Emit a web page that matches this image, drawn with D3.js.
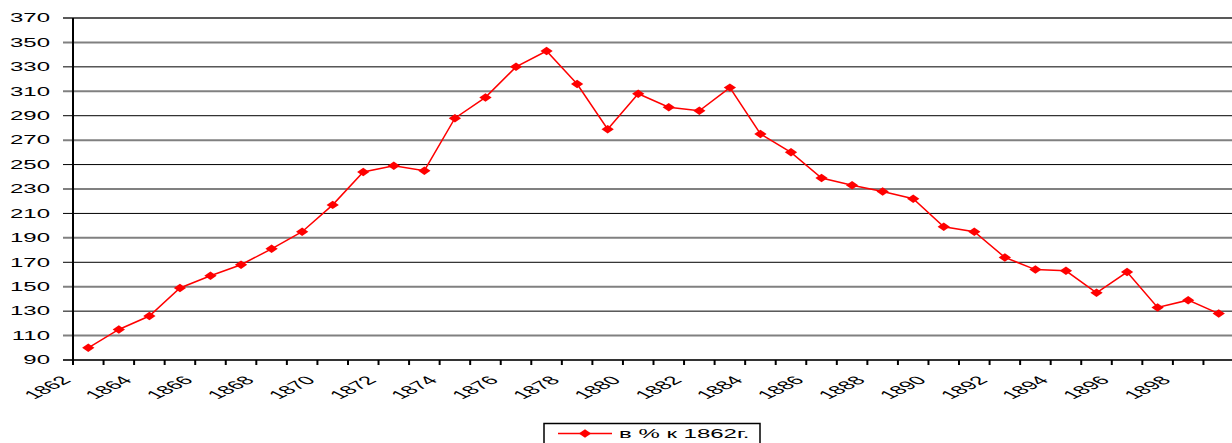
<!DOCTYPE html>
<html>
<head>
<meta charset="utf-8">
<script src="https://cdn.jsdelivr.net/npm/d3@7/dist/d3.min.js"></script>
<style>
  body { margin: 0; background: #fff; }
  text { font-family: "Liberation Sans", Arial, sans-serif; font-size: 12px; fill: #000; }
</style>
</head>
<body>
<svg width="1232" height="443"></svg>
<script>
// years 1862..1899, index in % of 1862
var years = [1862, 1863, 1864, 1865, 1866, 1867, 1868, 1869, 1870, 1871,
             1872, 1873, 1874, 1875, 1876, 1877, 1878, 1879, 1880, 1881,
             1882, 1883, 1884, 1885, 1886, 1887, 1888, 1889, 1890, 1891,
             1892, 1893, 1894, 1895, 1896, 1897, 1898, 1899];
var values = [100, 115, 126, 149, 159, 168, 181, 195, 217, 244,
              249, 245, 288, 305, 330, 343, 316, 279, 308, 297,
              294, 313, 275, 260, 239, 233, 228, 222, 199, 195,
              174, 164, 163, 145, 162, 133, 139, 128];
var yTicks = [90, 110, 130, 150, 170, 190, 210, 230, 250, 270, 290, 310, 330, 350, 370];
var xLabels = years.filter(function(y) { return (y - 1862) % 2 === 0; });
var seriesName = "в % к 1862г.";

var svg = d3.select("svg");

var x = d3.scaleBand()
    .domain(years)
    .range([73, 1234]);

var y = d3.scaleLinear()
    .domain([90, 370])
    .range([360, 18]);

// gridlines (alternate ones look grey/thicker in the original scan)
svg.append("g")
  .selectAll("line")
  .data(yTicks.slice(1))
  .enter().append("line")
    .attr("x1", 63)
    .attr("x2", x.range()[1])
    .attr("y1", function(d) { return y(d); })
    .attr("y2", function(d) { return y(d); })
    .attr("stroke", function(d, i) { return d === 370 ? "#222" : (i % 2 === 0 ? "#808080" : "#000"); })
    .attr("stroke-width", function(d, i) { return d === 370 ? 1.6 : (i % 2 === 0 ? 2 : 1); });

// y tick labels, stretched horizontally like the reference
svg.append("g")
  .selectAll("text")
  .data(yTicks)
  .enter().append("text")
    .attr("transform", function(d) { return "translate(50," + y(d) + ") scale(2,1)"; })
    .attr("dy", "0.36em")
    .attr("text-anchor", "end")
    .text(function(d) { return d; });

// x axis line + ticks
svg.append("line")
    .attr("x1", 63).attr("x2", x.range()[1])
    .attr("y1", y(90)).attr("y2", y(90))
    .attr("stroke", "#333").attr("stroke-width", 2);

var tickPos = years.map(function(d) { return x(d); }).concat([x.range()[1]]);
svg.append("g")
  .selectAll("line")
  .data(tickPos)
  .enter().append("line")
    .attr("x1", function(d) { return d; })
    .attr("x2", function(d) { return d; })
    .attr("y1", y(90))
    .attr("y2", y(90) + 5)
    .attr("stroke", "#000")
    .attr("stroke-width", 2);

// y axis line
svg.append("line")
    .attr("x1", 73).attr("x2", 73)
    .attr("y1", y(370)).attr("y2", y(90) + 5)
    .attr("stroke", "#000").attr("stroke-width", 2);

// x labels, rotated then stretched
svg.append("g")
  .selectAll("text")
  .data(xLabels)
  .enter().append("text")
    .attr("transform", function(d) { return "translate(" + (x(d) - 1) + ",381) scale(2,1) rotate(-45)"; })
    .attr("text-anchor", "end")
    .text(function(d) { return d; });

// series
var line = d3.line()
    .x(function(d, i) { return x(years[i]) + x.bandwidth() / 2; })
    .y(function(d) { return y(d); });

svg.append("path")
    .datum(values)
    .attr("fill", "none")
    .attr("stroke", "#ff0000")
    .attr("stroke-width", 1.5)
    .attr("d", line);

var marker = d3.symbol().type(d3.symbolSquare).size(36);

svg.append("g")
  .selectAll("path")
  .data(values)
  .enter().append("path")
    .attr("d", marker)
    .attr("fill", "#ff0000")
    .attr("transform", function(d, i) {
      return "translate(" + (x(years[i]) + x.bandwidth() / 2) + "," + y(d) + ") scale(1.45,1) rotate(45)";
    });

// legend
var legend = svg.append("g");
legend.append("rect")
    .attr("x", 544).attr("y", 423.5)
    .attr("width", 216).attr("height", 24)
    .attr("fill", "#fff")
    .attr("stroke", "#000").attr("stroke-width", 1.5);
legend.append("line")
    .attr("x1", 558).attr("x2", 612)
    .attr("y1", 433.5).attr("y2", 433.5)
    .attr("stroke", "#ff0000").attr("stroke-width", 1.5);
legend.append("path")
    .attr("d", marker)
    .attr("fill", "#ff0000")
    .attr("transform", "translate(585,433.5) scale(1.45,1) rotate(45)");
legend.append("text")
    .attr("transform", "translate(619,437.5) scale(2,1)")
    .text(seriesName);
</script>
</body>
</html>
